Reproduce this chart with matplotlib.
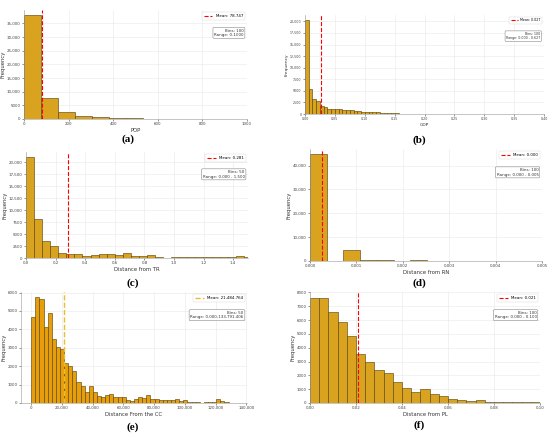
import numpy as np
import matplotlib
matplotlib.use("Agg")
import matplotlib.pyplot as plt
from matplotlib.ticker import FuncFormatter, FormatStrFormatter
from matplotlib.lines import Line2D

# (a) POP
pop_width = 76.0
pop_counts = [38000, 7600, 2450, 1250, 620, 370, 330, 160, 130, 110, 100, 90, 80, 70]
pop_mean = 78.747

# (b) GDP
gdp_width = 0.00627
gdp_counts = [20360, 5450, 3200, 2800, 1650, 1550, 1150, 1050, 1000, 1180, 900, 850,
              780, 650, 560, 480, 420, 400, 380, 330, 200, 160, 150, 120, 120, 100, 90, 70,
              50, 45, 40, 40, 35, 35, 30, 30, 30, 25, 25, 25, 20, 20, 20, 20, 15, 15, 15,
              15, 15, 10, 10, 10, 10, 10, 10, 10, 8, 8, 8, 8, 8, 6, 6, 6]
gdp_mean = 0.027

# (c) Distance from TR
tr_width = 0.0545
tr_counts = [21100, 8200, 3600, 2550, 1030, 900, 830, 480, 690, 830, 760, 620, 1030, 480,
             340, 550, 210, 70, 140, 140, 210, 140, 280, 280, 280, 210, 340, 280]
tr_mean = 0.281

# (d) Distance from RN
rn_width = 0.00036
rn_counts = [44700, 0, 4450, 400, 380, 0, 280, 60, 50, 0, 80, 60, 40, 30]
rn_mean = 0.00025

# (e) Distance From the CC
cc_width = 133791.406 / 50
cc_counts = [4680, 5740, 5630, 4150, 4870, 3480, 3040, 2950, 2180, 2010, 1740, 1120, 950,
             620, 950, 620, 380, 350, 420, 480, 310, 310, 350, 160, 130, 240, 350, 270,
             460, 220, 200, 180, 150, 150, 150, 200, 130, 160, 70, 40, 40, 20, 30, 30, 60,
             200, 110, 40, 20, 10]
cc_mean = 21484.764

# (f) Distance from PL
pl_width = 0.004
pl_counts = [7560, 7630, 6610, 5850, 4830, 3540, 2980, 2390, 2150, 1540, 1120, 830, 980,
             680, 510, 320, 240, 150, 200, 100, 40, 70, 70, 50, 50]
pl_mean = 0.021

GOLD = "#D9A21F"
ORANGE = "#E89E0B"
EDGE = "#5e4a12"


def comma_fmt(x, pos):
    if abs(x) >= 10000:
        return f"{x:,.0f}"
    return f"{x:.0f}"


def panel(rect, counts, width, mean, mean_txt, bins_txt, range_txt, xlabel,
          color=GOLD, mean_color="red", mean_lw=0.8, xlim=None, xfmt=None,
          tick_fs=2.9, letter="a", letter_xy=(0, 0)):
    ax = fig.add_axes(rect)
    edges = np.arange(len(counts)) * width
    ax.bar(edges, counts, width=width, align="edge", color=color,
           edgecolor=EDGE, linewidth=0.45, zorder=2)
    ax.axvline(mean, color=mean_color, ls="--", lw=mean_lw, zorder=3)
    if xlim is not None:
        ax.set_xlim(*xlim)
    ax.set_ylim(0, max(counts) * 1.05)
    ax.grid(True, color="#e8e8e8", lw=0.4, zorder=0)
    ax.set_axisbelow(True)
    for s in ["top", "right"]:
        ax.spines[s].set_visible(False)
    for s in ["left", "bottom"]:
        ax.spines[s].set_linewidth(0.4)
        ax.spines[s].set_color("#999999")
    ax.tick_params(labelsize=tick_fs, length=1.5, width=0.4, pad=1, colors="#444444")
    ax.yaxis.set_major_formatter(FuncFormatter(comma_fmt))
    if xfmt is not None:
        ax.xaxis.set_major_formatter(xfmt)
    ax.set_xlabel(xlabel, fontsize=tick_fs + 0.9, labelpad=1, color="#333333")
    ax.set_ylabel("Frequency", fontsize=tick_fs + 0.9, labelpad=1, color="#333333")
    handle = Line2D([], [], color=mean_color, ls="--", lw=mean_lw)
    leg = ax.legend([handle], [mean_txt], loc="upper right", fontsize=tick_fs,
                    frameon=True, handlelength=2.2, borderpad=0.5)
    leg.get_frame().set_linewidth(0.3)
    ax.text(0.985, 0.83, f"{bins_txt}\n{range_txt}", transform=ax.transAxes,
            ha="right", va="top", fontsize=tick_fs, color="#333333",
            bbox=dict(boxstyle="round,pad=0.3", fc="white", ec="#888888", lw=0.4))
    fig.text(letter_xy[0] / 550, 1 - letter_xy[1] / 433, f"({letter})",
             ha="center", va="center", fontsize=8, fontweight="bold",
             family="Liberation Serif")
    return ax


def rect(l, r, t, b):
    return [l / 550, 1 - b / 433, (r - l) / 550, (b - t) / 433]


fig = plt.figure(figsize=(5.5, 4.33), dpi=100)

panel(rect(24, 247, 10, 119), pop_counts, pop_width, pop_mean, "Mean: 78.747",
      "Bins: 100", "Range: 0-1000", "POP", xlim=(0, 1000),
      letter="a", letter_xy=(128, 139))

panel(rect(305, 544, 15, 114), gdp_counts, gdp_width, gdp_mean, "Mean: 0.027",
      "Bins: 100", "Range: 0.000 - 0.627", "GDP", xlim=(0, 0.40),
      xfmt=FormatStrFormatter("%.2f"), tick_fs=2.3, letter="b", letter_xy=(419, 140))

panel(rect(26, 248, 152, 258), tr_counts, tr_width, tr_mean, "Mean: 0.281",
      "Bins: 50", "Range: 0.000 - 1.500", "Distance from TR", xlim=(0, 1.5),
      xfmt=FormatStrFormatter("%.1f"), letter="c", letter_xy=(133, 283))

axd = panel(rect(310, 542, 149, 261), rn_counts, rn_width, rn_mean, "Mean: 0.000",
            "Bins: 100", "Range: 0.000 - 0.005", "Distance from RN", xlim=(0, 0.005),
            xfmt=FormatStrFormatter("%.3f"), letter="d", letter_xy=(419, 283))
axd.set_yticks([0, 10000, 20000, 30000, 40000])

axe = panel(rect(21, 247, 292, 403), cc_counts, cc_width, cc_mean, "Mean: 21,484.764",
            "Bins: 50", "Range: 0.000-133,791.406", "Distance From the CC",
            color=ORANGE, mean_color="#EDBE2B", mean_lw=1.0, letter="e",
            letter_xy=(133, 427))
axe.set_xlim(-0.05 * 133791.406, 1.05 * 133791.406)
axe.xaxis.set_major_formatter(FuncFormatter(lambda x, p: f"{x:,.0f}"))
axe.set_yticks(range(0, 7000, 1000))
axe.set_ylim(0, 6030)

axf = panel(rect(310, 540, 292, 403), pl_counts, pl_width, pl_mean, "Mean: 0.021",
            "Bins: 100", "Range: 0.000 - 0.100", "Distance from PL", xlim=(0, 0.10),
            xfmt=FormatStrFormatter("%.2f"), letter="f", letter_xy=(419, 425))
axf.set_yticks(range(0, 9000, 1000))
axf.set_ylim(0, 8030)

fig.savefig("out.png", dpi=100)
